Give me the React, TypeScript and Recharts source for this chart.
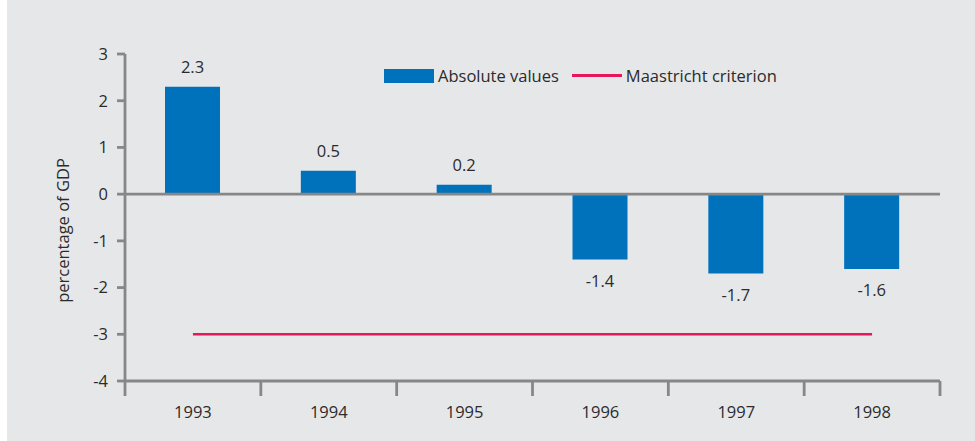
import React from "react";
import {
  ComposedChart, Bar, Line, XAxis, YAxis, ReferenceLine, LabelList, Legend,
} from "recharts";

// categories and values
const years = ["1993", "1994", "1995", "1996", "1997", "1998"];
const absoluteValues = [2.3, 0.5, 0.2, -1.4, -1.7, -1.6];
const maastricht = [-3, -3, -3, -3, -3, -3];
const yTicks = [-4, -3, -2, -1, 0, 1, 2, 3];

const BLUE = "#0071bb";
const PINK = "#e8175a";
const GREY = "#878787";
const TEXT = "#2b2b2b";
const FONT = "'Open Sans', 'DejaVu Sans', sans-serif";
const FS = 16.5;

// bars sit in the middle of each year slot, slot edges get the tick marks
const data = years.map((year, i) => ({
  x: i + 0.5,
  year,
  value: absoluteValues[i],
  criterion: maastricht[i],
}));
const xTicks = years.flatMap((_, i) => [i, i + 0.5]).concat(years.length);

function YearTick(props: any) {
  const { x, y, payload } = props;
  const v = payload.value as number;
  if (Number.isInteger(v)) {
    return <line x1={x} y1={y} x2={x} y2={y + 15} stroke={GREY} strokeWidth={2.8} />;
  }
  return (
    <text x={x} y={y + 30} textAnchor="middle" dominantBaseline="central"
      fontSize={FS} fill={TEXT} fontFamily={FONT}>
      {years[Math.floor(v)]}
    </text>
  );
}

function ValueLabel(props: any) {
  const { x, y, width, height, value } = props;
  const top = Math.min(y, y + height);
  const bottom = Math.max(y, y + height);
  const ly = value >= 0 ? top - 20 : bottom + 21;
  return (
    <text x={x + width / 2} y={ly} textAnchor="middle" dominantBaseline="central"
      fontSize={FS} fill={TEXT} fontFamily={FONT}>
      {value}
    </text>
  );
}

function LegendBox() {
  return (
    <div style={{ display: "flex", alignItems: "center", fontFamily: FONT, fontSize: FS, color: TEXT, whiteSpace: "nowrap" }}>
      <span style={{ width: 50, height: 14, background: BLUE, display: "inline-block", marginRight: 4 }} />
      <span style={{ marginRight: 13 }}>Absolute values</span>
      <span style={{ width: 50, height: 3, background: PINK, display: "inline-block", marginRight: 4 }} />
      <span>Maastricht criterion</span>
    </div>
  );
}

export default function App() {
  return (
    <div style={{ position: "absolute", left: 7, top: 0, width: 968, height: 441, background: "#e6e7e9" }}>
      <ComposedChart width={968} height={441} data={data}
        margin={{ top: 54, right: 35, left: 0, bottom: 0 }}>
        <YAxis type="number" domain={[-4, 3]} ticks={yTicks} interval={0} width={118}
          axisLine={{ stroke: GREY, strokeWidth: 2.8 }}
          tickLine={{ stroke: GREY, strokeWidth: 2.8 }} tickSize={8} tickMargin={9}
          tick={{ fontSize: FS, fill: TEXT, fontFamily: FONT }}
          label={{ value: "percentage of GDP", angle: -90, position: "insideLeft", dx: 51, dy: 13,
            style: { fontSize: FS, fill: TEXT, fontFamily: FONT, textAnchor: "middle" } }} />
        <XAxis type="number" dataKey="x" domain={[0, years.length]} ticks={xTicks} interval={0}
          height={60} tickSize={0} tickMargin={0} tickLine={false}
          axisLine={{ stroke: GREY, strokeWidth: 2.8 }} tick={<YearTick />} />
        <ReferenceLine y={0} stroke={GREY} strokeWidth={2.8} />
        <Legend verticalAlign="middle" content={<LegendBox />}
          wrapperStyle={{ position: "absolute", top: 64, left: 377, width: "auto" }} />
        <Bar dataKey="value" name="Absolute values" fill={BLUE} barSize={55} isAnimationActive={false}>
          <LabelList dataKey="value" content={<ValueLabel />} />
        </Bar>
        <Line dataKey="criterion" name="Maastricht criterion" stroke={PINK} strokeWidth={2.5}
          dot={false} activeDot={false} isAnimationActive={false} />
      </ComposedChart>
    </div>
  );
}
